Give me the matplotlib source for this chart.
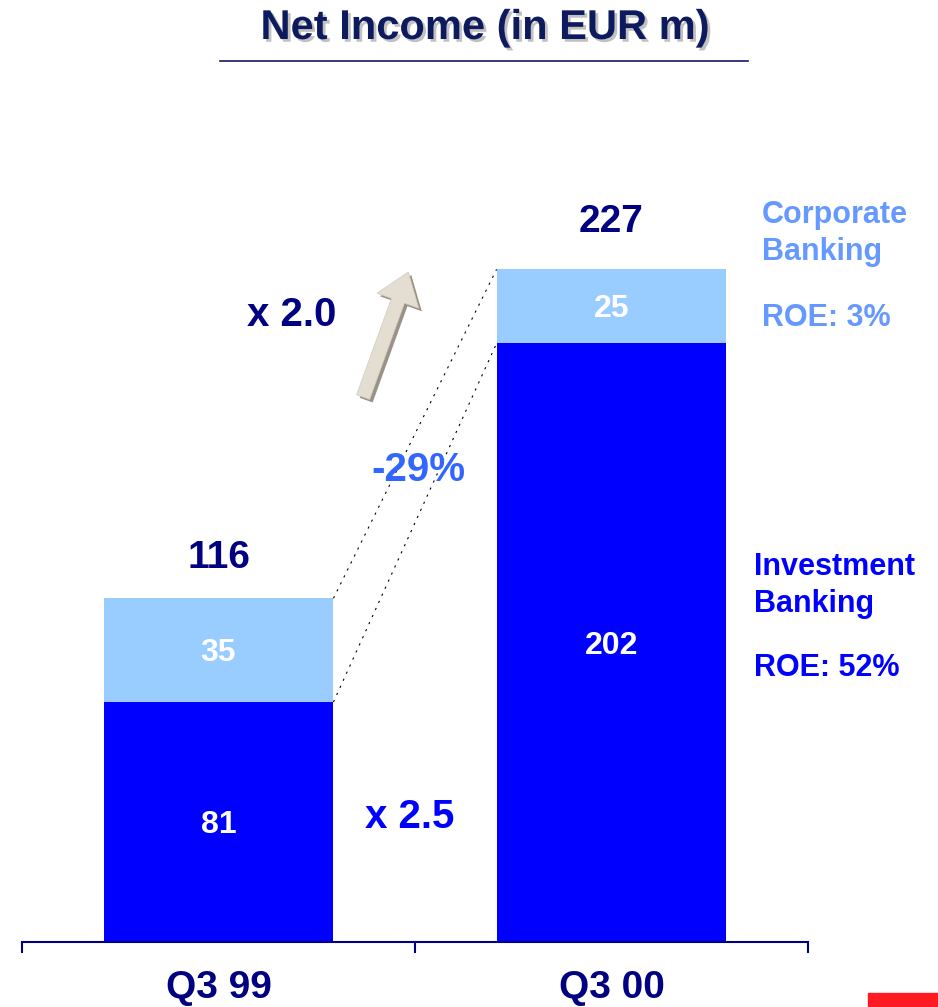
import matplotlib.pyplot as plt
from matplotlib.patches import Rectangle
from matplotlib.lines import Line2D
from matplotlib.transforms import offset_copy
import matplotlib.patheffects as pe

plt.rcParams['font.family'] = ['Liberation Sans', 'DejaVu Sans']
plt.rcParams['font.weight'] = 'bold'

# data
quarters = ['Q3 99', 'Q3 00']
investment = [81, 202]
corporate = [35, 25]
totals = [116, 227]

navy = '#000080'
blue = '#0000ff'
light = '#99ccff'

fig = plt.figure(figsize=(9.38, 10.07), dpi=100)
W, H = 938, 1007
# axes: y=0 at pixel 942, 2.963 px per unit
ax = fig.add_axes([22 / W, (H - 942) / H, 786 / W, 300 * 2.963 / H])

x = [0, 1]
bw = 0.585
ax.bar(x, investment, width=bw, color=blue, zorder=2)
ax.bar(x, corporate, width=bw, bottom=investment, color=light, zorder=2)

ax.set_xlim(-0.5, 1.5)
ax.set_ylim(0, 300)
for s in ['top', 'right', 'left']:
    ax.spines[s].set_visible(False)
ax.spines['bottom'].set_color(navy)
ax.spines['bottom'].set_linewidth(1.5)
ax.set_yticks([])
ax.set_xticks([-0.5, 0.5, 1.5])
ax.set_xticklabels([])
ax.tick_params(axis='x', direction='out', length=8, width=1.5, color=navy)

# category labels
for i, q in enumerate(quarters):
    ax.annotate(q, xy=(i, 0), xycoords=('data', 'axes fraction'),
                xytext=(0, -33), textcoords='offset points',
                ha='center', va='center', fontsize=28, color=navy)

# segment labels
for i in range(2):
    ax.text(i, investment[i] / 2 - 1, str(investment[i]), ha='center', va='center',
            fontsize=23, color='white', zorder=3)
    ax.text(i, investment[i] + corporate[i] / 2 - 1, str(corporate[i]), ha='center',
            va='center', fontsize=23, color='white', zorder=3)

# totals
tot_off = [29, 34]
for i in range(2):
    ax.annotate(str(totals[i]), xy=(i, totals[i]), xytext=(0, tot_off[i]),
                textcoords='offset points', ha='center', va='center',
                fontsize=28, color=navy)

# dotted connector lines
xr = 0 + bw / 2
xl = 1 - bw / 2
ax.plot([xr, xl], [totals[0], totals[1]], color='black', lw=0.8,
        ls=(0, (2, 5)), zorder=1)
ax.plot([xr, xl], [investment[0], investment[1]], color='black', lw=0.8,
        ls=(0, (2, 5)), zorder=1)

# growth annotations
ax.text(0.187, 211.6, 'x 2.0', ha='center', va='center', fontsize=29, color=navy)
ax.text(0.487, 42.2, 'x 2.5', ha='center', va='center', fontsize=29, color=blue)
ax.text(0.508, 159.3, '-29%', ha='center', va='center', fontsize=29, color='#3366ff',
        zorder=4)

# arrow with shadow
tail = (0.368, 183.9)
tip = (0.483, 226.1)
style = 'simple,head_width=3.2,head_length=2.2,tail_width=1.0'
shadow_tr = offset_copy(ax.transData, fig=fig, x=3, y=-3, units='dots')
ax.annotate('', xy=tip, xytext=tail, xycoords=shadow_tr, textcoords=shadow_tr,
            arrowprops=dict(arrowstyle=style, fc='#9a9288', ec='none',
                            shrinkA=0, shrinkB=0, mutation_scale=10))
ax.annotate('', xy=tip, xytext=tail,
            arrowprops=dict(arrowstyle=style, fc='#e4ddd2', ec='#d2c9bb', lw=0.5,
                            shrinkA=0, shrinkB=0, mutation_scale=10))

# right-side legends
cb = '#6699ff'
ax.text(1.383, 245.4, 'Corporate', ha='left', va='center', fontsize=22, color=cb)
ax.text(1.383, 232.9, 'Banking', ha='left', va='center', fontsize=22, color=cb)
ax.text(1.383, 210.6, 'ROE: 3%', ha='left', va='center', fontsize=22, color=cb)
ax.text(1.3626, 126.6, 'Investment', ha='left', va='center', fontsize=22, color=blue)
ax.text(1.3626, 114.1, 'Banking', ha='left', va='center', fontsize=22, color=blue)
ax.text(1.3626, 92.5, 'ROE: 52%', ha='left', va='center', fontsize=22, color=blue)

# title
fig.text(485 / W, 1 - 28 / H, 'Net Income (in EUR m)', ha='center', va='center',
         fontsize=30, color='#0d1b5e',
         path_effects=[pe.SimplePatchShadow(offset=(2, -2), shadow_rgbFace='#999999',
                                            alpha=0.6), pe.Normal()])
fig.add_artist(Line2D([220 / W, 748 / W], [1 - 61 / H, 1 - 61 / H], color='#0d1b5e',
                      lw=1.2))

# red corner mark
fig.add_artist(Rectangle((868 / W, 0), 70 / W, 14 / H, color='#ff1a22',
                         transform=fig.transFigure))

fig.savefig('out.png', dpi=100)
